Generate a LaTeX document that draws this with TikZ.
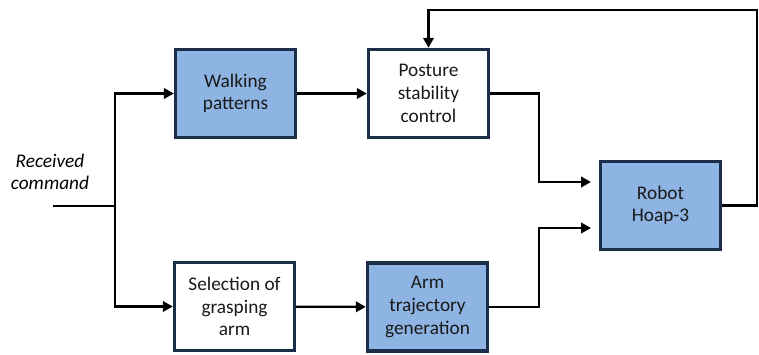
\documentclass[tikz,border=0pt]{standalone}
\usepackage{fontspec}
\setmainfont{Carlito}
\usepackage{xcolor}
\usepackage{tikz}
\usetikzlibrary{arrows.meta}
\definecolor{boxblue}{HTML}{8DB4E2}
\definecolor{boxline}{HTML}{1C2D4A}

\begin{document}
\begin{tikzpicture}[x=1pt,y=-1pt,font=\fontsize{19.3}{22.7}\selectfont,
  block/.style={draw=boxline,line width=3.4pt,minimum width=120pt,minimum height=88pt,align=center,text=black!90},
  blue block/.style={block,fill=boxblue},
  link/.style={line width=2.3pt,black},
  arr/.style={link,-{Triangle[length=10pt,width=10.5pt]}}]
\useasboundingbox (0,0) rectangle (759,355);
\node[blue block] (walk) at (235.5,93.5) {Walking\\patterns};
\node[block] (post) at (428.5,93.5) {Posture\\stability\\control};
\node[block] (sel) at (234.5,306.5) {Selection of\\grasping\\arm};
\node[blue block] (arm) at (427.5,307) {Arm\\trajectory\\generation};
\node[blue block] (robot) at (660.5,205.5) {Robot\\Hoap-3};
\node[font=\fontsize{19.3}{22.7}\selectfont\itshape,align=center] (cmd) at (50,172) {Received\\command};
\coordinate (in) at (53,206);
\coordinate (split) at (115,206);
\coordinate (bend1) at (539,182);
\coordinate (bend2) at (539,228);
\coordinate (in1) at (591,182);
\coordinate (in2) at (591,228);
\coordinate (fb) at (757,10);
\draw[link] (in) -- (split);
\draw[arr] (split) |- (walk.west);
\draw[arr] (split) |- (sel.west);
\draw[arr] (walk) -- (post);
\draw[arr] (sel) -- (arm);
\draw[arr] (post.east) -| (bend1) -- (in1);
\draw[arr] (arm.east) -| (bend2) -- (in2);
\draw[arr] (robot.east) -| (fb) -| (post.north);
\end{tikzpicture}
\end{document}
